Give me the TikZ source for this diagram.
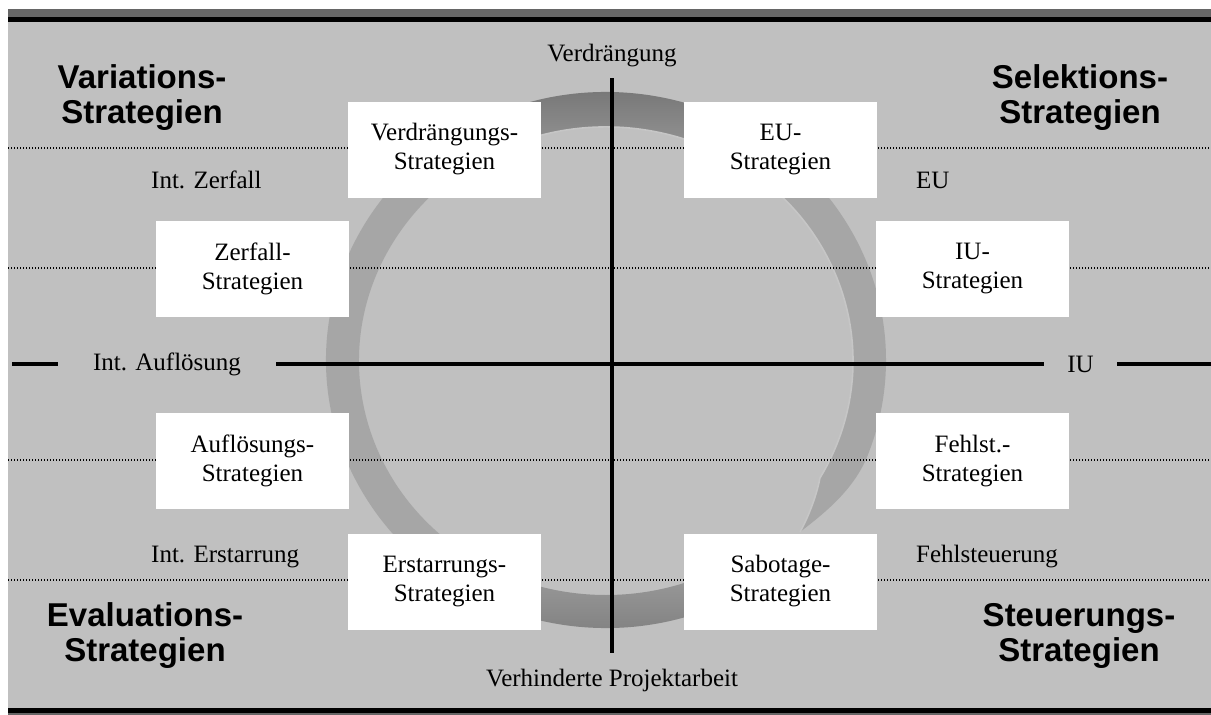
\documentclass[tikz,border=0pt]{standalone}
\usepackage{fontspec}
\setmainfont{Liberation Serif}
\setsansfont{Liberation Sans}
\definecolor{bg}{HTML}{C0C0C0}
\definecolor{topgray}{HTML}{666666}
\definecolor{rtop}{HTML}{787878}
\definecolor{rmid}{HTML}{A6A6A6}
\definecolor{rbot}{HTML}{7E7E7E}
\definecolor{hlc}{HTML}{C6C6C6}
\pgfdeclareverticalshading{ringshade}{100bp}{color(0bp)=(rbot); color(27bp)=(rbot); color(35bp)=(rmid); color(64bp)=(rmid); color(72bp)=(rtop); color(100bp)=(rtop)}
\begin{document}
\begin{tikzpicture}[x=1pt,y=-1pt,
  sbox/.style={fill=white, minimum width=193pt, minimum height=96pt, inner sep=0pt, align=center, font=\fontsize{25}{29}\selectfont},
  lab/.style={inner sep=0pt, font=\fontsize{25}{29}\selectfont},
  axlab/.style={fill=bg, inner sep=0pt, font=\fontsize{25}{29}\selectfont},
  head/.style={inner sep=0pt, align=center, font=\sffamily\bfseries\fontsize{33}{35}\selectfont},
  axisline/.style={line width=3.2pt, black},
  dotline/.style={line width=1.3pt, black, dash pattern=on 1.3pt off 1.7pt},
  hl/.style={line width=1.6pt, hlc}]
\useasboundingbox (0,0) rectangle (1211,715);
% frame and background
\fill[white] (0,0) rectangle (1211,715);
\fill[bg] (8,22) rectangle (1211,708);
\fill[topgray] (8,9) rectangle (1211,17);
\fill[black] (8,17) rectangle (1211,22);
\fill[black] (8,708) rectangle (1211,713);
\fill[topgray] (8,713) rectangle (1211,715);
% ring
\coordinate (Co) at (606,360);
\coordinate (Ci) at (606,361);
\path (Co) ++(60:280 and 268) coordinate (o1);
\path (Ci) ++(390:247 and 234) coordinate (i30);
\coordinate (tp) at (800,532);
\shade[shading=ringshade] (o1) arc[start angle=60, end angle=380, x radius=280, y radius=268] coordinate (o2)
  .. controls (856,488) and (826,512) .. (tp)
  .. controls (809,516) and (817,494) .. (i30)
  arc[start angle=390, end angle=60, x radius=247, y radius=234] -- cycle;
\path (Ci) ++(250:247 and 234) coordinate (h1);
\draw[hl] (h1) arc[start angle=250, end angle=390, x radius=247, y radius=234]
  .. controls (817,494) and (809,516) .. (tp);
% dotted lines
\foreach \yy in {148,268,460,580} \draw[dotline] (8,\yy) -- (1211,\yy);
% axes labels
\node[axlab, minimum width=218pt, minimum height=44pt] (auf) at (167,364) {Int. Aufl\"osung};
\node[axlab, minimum width=73pt, minimum height=44pt] (iu) at (1080.5,364) {IU};
\node[axlab, minimum width=140pt, minimum height=40pt] (verd) at (612,56) {Verdr\"angung};
\node[axlab, minimum width=285pt, minimum height=44pt] (verh) at (612,680) {Verhinderte Projektarbeit};
\coordinate (hL) at (12,364);
\coordinate (hR) at (1211,364);
\coordinate (vT) at (612,78);
\coordinate (vB) at (612,653);
\draw[axisline] (hL) -- (auf.west);
\draw[axisline] (auf.east) -- (iu.west);
\draw[axisline] (iu.east) -- (hR);
\draw[axisline] (vT) -- (vB);
% side labels
\node[lab, anchor=west] (lz) at (151,180) {Int. Zerfall};
\node[lab, anchor=west] (le) at (151,557) {Int. Erstarrung};
\node[lab, anchor=west] (reu) at (916,180) {EU};
\node[lab, anchor=west] (rf) at (916,557) {Fehlsteuerung};
% boxes
\node[sbox] (b1) at (444.5,149.5) {Verdr\"angungs-\\Strategien};
\node[sbox] (b2) at (780.5,149.5) {EU-\\Strategien};
\node[sbox] (b3) at (252.5,269) {Zerfall-\\Strategien};
\node[sbox] (b4) at (972.5,269) {IU-\\Strategien};
\node[sbox] (b5) at (252.5,461) {Aufl\"osungs-\\Strategien};
\node[sbox] (b6) at (972.5,461) {Fehlst.-\\Strategien};
\node[sbox] (b7) at (444.5,581.5) {Erstarrungs-\\Strategien};
\node[sbox] (b8) at (780.5,581.5) {Sabotage-\\Strategien};
% headings
\node[head] (hv) at (142,98) {Variations-\\Strategien};
\node[head] (hs) at (1080,98) {Selektions-\\Strategien};
\node[head] (he) at (145,636) {Evaluations-\\Strategien};
\node[head] (hst) at (1079,636) {Steuerungs-\\Strategien};
\end{tikzpicture}
\end{document}
